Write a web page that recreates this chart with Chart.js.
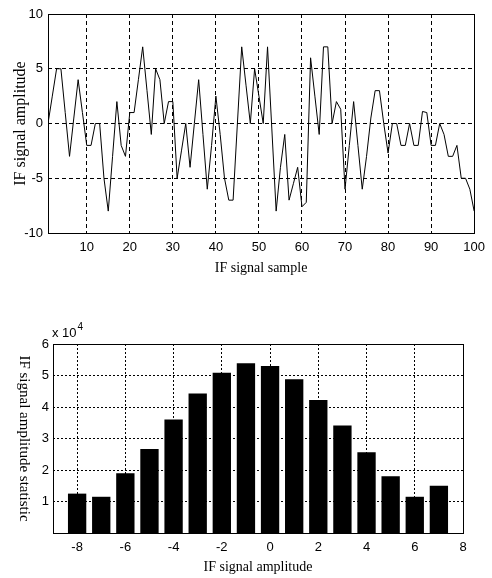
<!DOCTYPE html>
<html>
<head>
<meta charset="utf-8">
<title>IF signal</title>
<script src="https://cdn.jsdelivr.net/npm/chart.js@4.4.1/dist/chart.umd.min.js"></script>
<style>
  body { margin: 0; background: #fff; }
  canvas { display: block; }
</style>
</head>
<body>
<canvas id="signalChart" width="492" height="290"></canvas>
<canvas id="histChart" width="492" height="288"></canvas>
<script>
// IF signal, one value per sample (samples 1..100)
const ifSignal = [
    0, 2.5, 5, 5, 1, -3, 0.5, 4, 1, -2,
    -2, 0, 0, -5, -8, -3, 2, -2, -3, 1,
    1, 4, 7, 3, -1, 5, 4, 0, 2, 2,
    -5, -2.5, 0, -4, 0, 4, -1, -6, -2, 2.5,
    -1, -5, -7, -7, 0, 7, 3.5, 0, 5, 2.5,
    0, 7, -0.5, -8, -4, -1, -7, -5.5, -4, -7.6,
    -7.2, 6, 2.5, -1, 7, 7, 0, 2, 1.3, -6,
    -2, 2, -2, -6, -3, 0.5, 3, 3, 0, -2.7,
    0, 0, -2, -2, 0, -2, -2, 1.1, 1, -2,
    -2, 0, -1, -3, -3, -2, -5, -5, -6, -8
];
const sampleTicks = [10, 20, 30, 40, 50, 60, 70, 80, 90, 100];
const amplitudeTicks = [-10, -5, 0, 5, 10];

// amplitude histogram
const histBins = [-8, -7, -6, -5, -4, -3, -2, -1, 0, 1, 2, 3, 4, 5, 6, 7];
const histCounts = [12500, 11500, 19000, 26700, 36000, 44300, 50900, 53900,
                    53000, 48800, 42200, 34100, 25600, 18000, 11500, 15000];
const binTicks = [-8, -6, -4, -2, 0, 2, 4, 6, 8];
const countTicks = [10000, 20000, 30000, 40000, 50000, 60000];

const sans = "'Liberation Sans Narrow', 'Liberation Sans', Arial, sans-serif";
const serif = "'Liberation Serif', 'Times New Roman', serif";
const tickFont = { family: sans, size: 13 };

// solid box round the plot area, like the matlab axes
const frameBox = {
    id: 'frameBox',
    afterDraw(chart) {
        const { ctx, chartArea: a } = chart;
        ctx.save();
        ctx.strokeStyle = '#000';
        ctx.lineWidth = 1;
        ctx.strokeRect(Math.round(a.left) + 0.5, Math.round(a.top) + 0.5,
            Math.round(a.right - a.left), Math.round(a.bottom - a.top));
        ctx.restore();
    }
};

const signalPoints = ifSignal.map((v, i) => ({ x: i + 1, y: v }));

new Chart(document.getElementById('signalChart'), {
    type: 'line',
    data: {
        datasets: [{
            data: signalPoints,
            borderColor: '#000',
            borderWidth: 1,
            pointRadius: 0,
            tension: 0,
            fill: false
        }]
    },
    options: {
        responsive: false,
        animation: false,
        events: [],
        layout: { padding: { left: 0, right: 14, top: 14, bottom: 13 } },
        plugins: { legend: { display: false }, tooltip: { enabled: false } },
        scales: {
            x: {
                type: 'linear', min: 1, max: 100,
                afterBuildTicks: s => { s.ticks = sampleTicks.map(v => ({ value: v })); },
                afterFit: s => { s.height = 44; },
                grid: { color: '#000', drawTicks: false },
                border: { display: false, dash: [4, 3] },
                ticks: { color: '#000', padding: 7, font: tickFont, maxRotation: 0, autoSkip: false },
                title: { display: true, text: 'IF signal sample', color: '#000',
                         font: { family: serif, size: 14 }, padding: 0 }
            },
            y: {
                min: -10, max: 10,
                afterBuildTicks: s => { s.ticks = amplitudeTicks.map(v => ({ value: v })); },
                afterFit: s => { s.width = 48; },
                grid: { color: '#000', drawTicks: false },
                border: { display: false, dash: [4, 3] },
                ticks: { color: '#000', padding: 5, font: tickFont },
                title: { display: true, text: 'IF signal amplitude', color: '#000',
                         font: { family: serif, size: 16 }, padding: { top: 11, bottom: 0 } }
            }
        }
    },
    plugins: [frameBox]
});

// rotated y title (reads downwards) and the x 10^4 exponent
const histLabels = {
    id: 'histLabels',
    afterDraw(chart) {
        const { ctx, chartArea: a } = chart;
        ctx.save();
        ctx.fillStyle = '#000';
        ctx.font = '15px ' + serif;
        ctx.textAlign = 'center';
        ctx.textBaseline = 'middle';
        ctx.translate(24, (a.top + a.bottom) / 2);
        ctx.rotate(Math.PI / 2);
        ctx.fillText('IF signal amplitude statistic', 0, 0);
        ctx.restore();

        ctx.save();
        ctx.fillStyle = '#000';
        ctx.textBaseline = 'middle';
        ctx.textAlign = 'left';
        ctx.font = '13px ' + sans;
        const base = 'x 10';
        ctx.fillText(base, a.left - 1, a.top - 11);
        const w = ctx.measureText(base).width;
        ctx.font = '10px ' + sans;
        ctx.fillText('4', a.left - 1 + w + 1, a.top - 17);
        ctx.restore();
    }
};

new Chart(document.getElementById('histChart'), {
    type: 'bar',
    data: {
        datasets: [{
            data: histBins.map((b, i) => ({ x: b, y: histCounts[i] })),
            backgroundColor: '#000',
            borderWidth: 0,
            barPercentage: 0.76,
            categoryPercentage: 1
        }]
    },
    options: {
        responsive: false,
        animation: false,
        events: [],
        layout: { padding: { left: 0, right: 29, top: 54, bottom: 0 } },
        plugins: { legend: { display: false }, tooltip: { enabled: false } },
        scales: {
            x: {
                type: 'linear', min: -9, max: 8, offset: false,
                afterBuildTicks: s => { s.ticks = binTicks.map(v => ({ value: v })); },
                afterFit: s => { s.height = 45; },
                grid: { color: '#000', drawTicks: false, offset: false },
                border: { display: false, dash: [2, 2] },
                ticks: { color: '#000', padding: 7, font: tickFont, maxRotation: 0, autoSkip: false },
                title: { display: true, text: 'IF signal amplitude', color: '#000',
                         font: { family: serif, size: 14 }, padding: { top: 0, bottom: 2 } }
            },
            y: {
                min: 0, max: 60000,
                afterBuildTicks: s => { s.ticks = countTicks.map(v => ({ value: v })); },
                afterFit: s => { s.width = 53; },
                grid: { color: '#000', drawTicks: false },
                border: { display: false, dash: [2, 2] },
                ticks: { color: '#000', padding: 4, font: tickFont, callback: v => String(v / 10000) }
            }
        }
    },
    plugins: [frameBox, histLabels]
});
</script>
</body>
</html>
